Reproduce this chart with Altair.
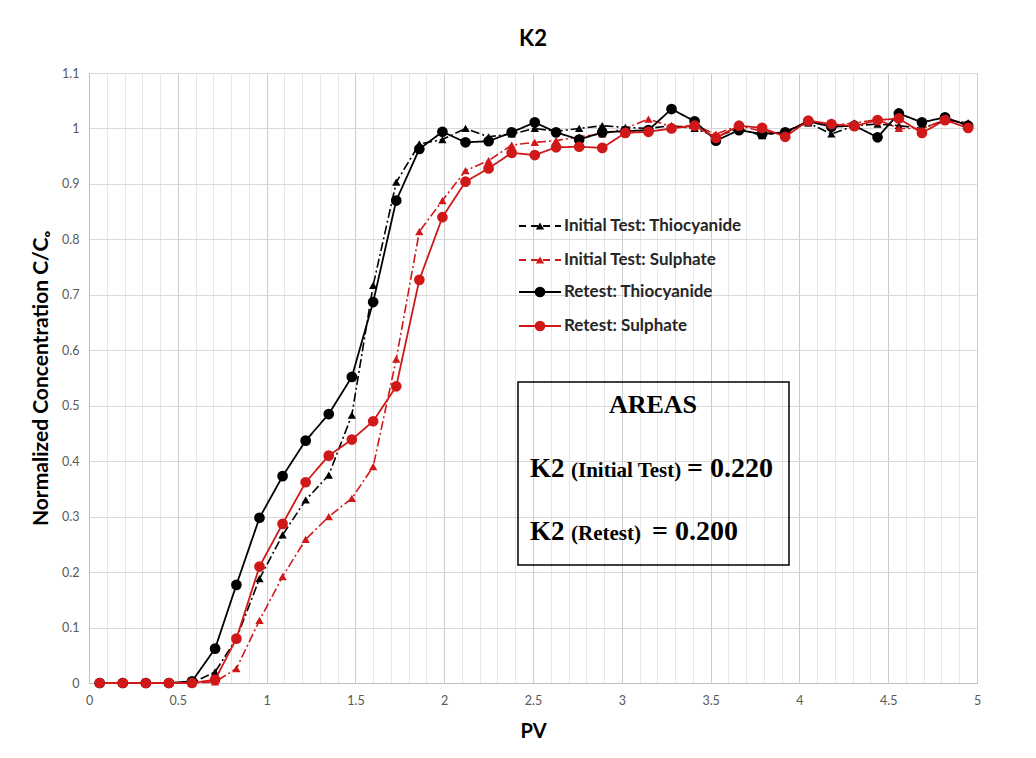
import altair as alt
import pandas as pd

# ---------------- data ----------------
pv = [0.06, 0.19, 0.32, 0.45, 0.58, 0.71, 0.83, 0.96, 1.09, 1.22, 1.35, 1.48, 1.60,
      1.73, 1.86, 1.99, 2.12, 2.25, 2.38, 2.51, 2.63, 2.76, 2.89, 3.02, 3.15, 3.28,
      3.41, 3.53, 3.66, 3.79, 3.92, 4.05, 4.18, 4.31, 4.44, 4.56, 4.69, 4.82, 4.95]

init_thio = [0, 0, 0, 0, 0, 0.02, 0.08, 0.188, 0.267, 0.33, 0.375, 0.483, 0.717,
             0.903, 0.972, 0.98, 1.0, 0.985, 0.99, 1.0, 0.995, 1.0, 1.005, 1.002, 1.0,
             1.005, 1.0, 0.985, 1.0, 0.987, 0.995, 1.01, 0.99, 1.005, 1.008, 1.005,
             1.0, 1.015, 1.01]

init_sulph = [0, 0, 0, 0, 0, 0.002, 0.026, 0.113, 0.192, 0.259, 0.30, 0.333, 0.39,
              0.584, 0.814, 0.87, 0.924, 0.942, 0.97, 0.975, 0.978, 0.985, 0.99, 1.0,
              1.017, 1.003, 1.005, 0.99, 1.005, 0.995, 0.99, 1.015, 1.005, 1.01, 1.016,
              1.0, 1.0, 1.015, 1.01]

re_thio = [0, 0, 0, 0, 0.003, 0.062, 0.177, 0.298, 0.373, 0.437, 0.485, 0.552, 0.687,
           0.87, 0.963, 0.994, 0.975, 0.977, 0.993, 1.011, 0.993, 0.98, 0.993, 0.995,
           0.997, 1.035, 1.013, 0.978, 0.997, 0.99, 0.993, 1.013, 1.003, 1.005, 0.984,
           1.027, 1.011, 1.02, 1.005]

re_sulph = [0, 0, 0, 0, 0, 0.006, 0.08, 0.21, 0.287, 0.362, 0.41, 0.439, 0.472,
            0.535, 0.727, 0.84, 0.904, 0.928, 0.956, 0.952, 0.966, 0.967, 0.965, 0.992,
            0.994, 1.0, 1.005, 0.983, 1.005, 1.001, 0.985, 1.014, 1.008, 1.004, 1.015,
            1.018, 0.992, 1.015, 1.001]

series_names = ["Initial Test: Thiocyanide", "Initial Test: Sulphate",
                "Retest: Thiocyanide", "Retest: Sulphate"]
series_values = [init_thio, init_sulph, re_thio, re_sulph]

x_ticks = [round(i * 0.1, 1) for i in range(51)]
y_ticks = [round(i * 0.1, 1) for i in range(12)]

area_title = "AREAS"
area_rows = [("K2", "(Initial Test)", "= 0.220"), ("K2", "(Retest)", "= 0.200")]

# ---------------- styles ----------------
BLACK = "#000000"
RED = "#d01818"
styles = {
    "Initial Test: Thiocyanide": dict(color=BLACK, shape="triangle-up", dash=[9, 3, 2, 3], size=70, width=1.6),
    "Initial Test: Sulphate": dict(color=RED, shape="triangle-up", dash=[9, 3, 2, 3], size=70, width=1.6),
    "Retest: Thiocyanide": dict(color=BLACK, shape="circle", dash=[1, 0], size=115, width=1.8),
    "Retest: Sulphate": dict(color=RED, shape="circle", dash=[1, 0], size=115, width=1.8),
}

FONT = "Lato"
major_test = "abs(datum.value*2 - round(datum.value*2)) < 0.001"

x_enc = alt.X(
    "pv:Q",
    scale=alt.Scale(domain=[0, 5], nice=False, zero=False),
    axis=alt.Axis(
        values=x_ticks, grid=True, ticks=False, labelOverlap=False, labelFlush=False,
        gridColor={"condition": {"test": major_test, "value": "#cdcdcd"}, "value": "#e6e6e6"},
        gridWidth=1,
        labelExpr=f"{major_test} ? format(datum.value, '~g') : ''",
        labelFont=FONT, labelFontSize=12.5, labelColor="#595959", labelPadding=11,
        domainColor="#bfbfbf", title="PV", titleFont=FONT, titleFontSize=20,
        titleFontWeight="bold", titleColor="#000000", titlePadding=15,
    ),
)
y_enc = alt.Y(
    "value:Q",
    scale=alt.Scale(domain=[0, 1.1], nice=False, zero=False),
    axis=alt.Axis(
        values=y_ticks, grid=True, ticks=False, gridColor="#d9d9d9", format="~g",
        labelFont=FONT, labelFontSize=12.5, labelColor="#595959", labelPadding=10,
        domainColor="#bfbfbf", title="Normalized Concentration C/Cₒ", titleFont=FONT,
        titleFontSize=21, titleFontWeight="bold", titleColor="#000000", titlePadding=10,
    ),
)

layers = []
for name, vals in zip(series_names, series_values):
    st = styles[name]
    df = pd.DataFrame({"pv": pv, "value": vals, "series": name})
    base = alt.Chart(df).encode(x=x_enc, y=y_enc)
    layers.append(base.mark_line(color=st["color"], strokeDash=st["dash"], strokeWidth=st["width"]))
    layers.append(base.mark_point(shape=st["shape"], filled=True, size=st["size"],
                                  color=st["color"], opacity=1))

# ---------------- manual legend ----------------
one = alt.Data(values=[{"a": 1}])
leg_y = [153, 187, 219, 253]
for name, yy in zip(series_names, leg_y):
    st = styles[name]
    layers.append(alt.Chart(one).mark_rule(color=st["color"], strokeWidth=st["width"] + 0.2,
                                           strokeDash=[7, 5] if st["dash"][1] else [1, 0])
                  .encode(x=alt.value(430), x2=alt.value(472), y=alt.value(yy)))
    layers.append(alt.Chart(one).mark_point(shape=st["shape"], filled=True, size=st["size"],
                                            color=st["color"], opacity=1)
                  .encode(x=alt.value(451), y=alt.value(yy)))
    layers.append(alt.Chart(one).mark_text(align="left", baseline="middle", font=FONT,
                                           fontSize=17, fontWeight="bold", color="#262626")
                  .encode(x=alt.value(475), y=alt.value(yy), text=alt.value(name)))

# ---------------- AREAS box ----------------
layers.append(alt.Chart(one).mark_rect(fillOpacity=0, stroke="#000000", strokeWidth=1.5)
              .encode(x=alt.value(429), x2=alt.value(700), y=alt.value(309), y2=alt.value(492)))
SERIF = "Liberation Serif"
layers.append(alt.Chart(one).mark_text(align="center", baseline="alphabetic", font=SERIF,
                                       fontSize=26, fontWeight="bold", color="#000000")
              .encode(x=alt.value(564), y=alt.value(340), text=alt.value(area_title)))
row_base = [404, 467]
row_x = [(441, 482, 598), (441, 482, 563)]
for (k, paren, val), yb, (x1, x2, x3) in zip(area_rows, row_base, row_x):
    layers.append(alt.Chart(one).mark_text(align="left", baseline="alphabetic", font=SERIF,
                                           fontSize=27, fontWeight="bold", color="#000000")
                  .encode(x=alt.value(x1), y=alt.value(yb), text=alt.value(k)))
    layers.append(alt.Chart(one).mark_text(align="left", baseline="alphabetic", font=SERIF,
                                           fontSize=21, fontWeight="bold", color="#000000")
                  .encode(x=alt.value(x2), y=alt.value(yb), text=alt.value(paren)))
    layers.append(alt.Chart(one).mark_text(align="left", baseline="alphabetic", font=SERIF,
                                           fontSize=28, fontWeight="bold", color="#000000")
                  .encode(x=alt.value(x3), y=alt.value(yb), text=alt.value(val)))

chart = alt.layer(*layers).properties(
    width=888, height=610,
    title=alt.Title("K2", font=FONT, fontSize=22, fontWeight="bold", color="#000000",
                    anchor="middle", offset=16),
    autosize=alt.AutoSizeParams(type="none"),
    padding={"left": 81, "top": 65, "right": 45, "bottom": 67},
).configure_view(stroke=None).configure(background="white")

chart.save("out.html", embed_options={"renderer": "svg", "actions": False})
